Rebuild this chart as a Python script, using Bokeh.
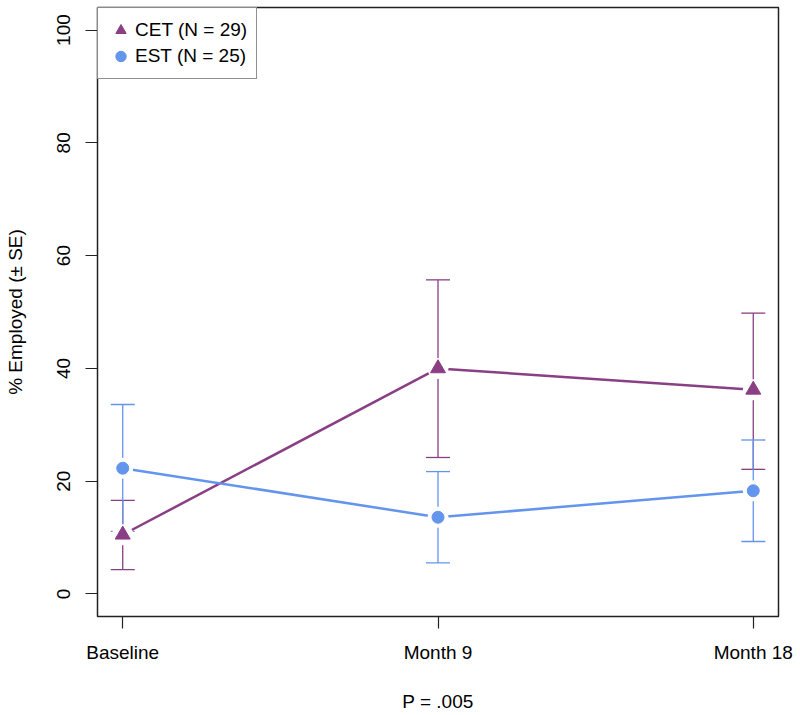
from bokeh.plotting import figure
from bokeh.models import ColumnDataSource, Whisker, TeeHead, Legend, LegendItem, FixedTicker
from bokeh.embed import file_html
from bokeh.resources import INLINE

timepoints = ["Baseline", "Month 9", "Month 18"]
xpos = [1, 2, 3]

cet_mean = [10.5, 40.0, 36.2]
cet_lower = [4.3, 24.2, 22.1]
cet_upper = [16.6, 55.7, 49.8]

est_mean = [22.3, 13.6, 18.3]
est_lower = [11.1, 5.5, 9.3]
est_upper = [33.6, 21.7, 27.3]

y_ticks = [0, 20, 40, 60, 80, 100]

CET_COL = "#8A3F85"
EST_COL = "#6495ED"
FONT = "Liberation Sans"
FS = "19px"

p = figure(width=800, height=715, output_backend="svg", toolbar_location=None,
           x_range=(0.92, 3.08), y_range=(-4, 104),
           min_border_left=97, min_border_right=22, min_border_top=7, min_border_bottom=99)
p.grid.visible = False
p.outline_line_color = "#222222"
p.outline_line_width = 1.5
p.background_fill_color = "white"
p.border_fill_color = "white"

for ax in (p.xaxis[0], p.yaxis[0]):
    ax.axis_line_color = None
    ax.major_tick_out = 12
    ax.major_tick_in = 0
    ax.minor_tick_line_color = None
    ax.major_tick_line_color = "#222222"
    ax.major_tick_line_width = 1.2
    ax.major_label_text_font = FONT
    ax.major_label_text_font_size = FS
    ax.major_label_text_color = "black"
    ax.axis_label_text_font = FONT
    ax.axis_label_text_font_size = FS
    ax.axis_label_text_font_style = "normal"
    ax.axis_label_text_color = "black"

p.xaxis.ticker = FixedTicker(ticks=xpos)
p.xaxis.major_label_overrides = {x: t for x, t in zip(xpos, timepoints)}
p.xaxis.major_label_standoff = 13
p.xaxis.axis_label = "P = .005"
p.xaxis.axis_label_standoff = 25

p.yaxis.ticker = FixedTicker(ticks=y_ticks)
p.yaxis.major_label_orientation = "vertical"
p.yaxis.major_label_standoff = 15
p.yaxis.axis_label = "% Employed (± SE)"
p.yaxis.axis_label_standoff = 29

cet = ColumnDataSource(dict(x=xpos, y=cet_mean, lo=cet_lower, hi=cet_upper))
est = ColumnDataSource(dict(x=xpos, y=est_mean, lo=est_lower, hi=est_upper))

# connecting lines, with white halos to create R-style gaps around points
p.line("x", "y", source=cet, line_color=CET_COL, line_width=2.5)
p.line("x", "y", source=est, line_color=EST_COL, line_width=2.5)
p.scatter("x", "y", source=cet, marker="circle", size=21, fill_color="white", line_color=None)
p.scatter("x", "y", source=est, marker="circle", size=21, fill_color="white", line_color=None)

for src, col in ((cet, CET_COL), (est, EST_COL)):
    w = Whisker(source=src, base="x", lower="lo", upper="hi", line_color=col, line_width=1.3,
                upper_head=TeeHead(size=24, line_color=col, line_width=1.3),
                lower_head=TeeHead(size=24, line_color=col, line_width=1.3))
    p.add_layout(w)

r_cet = p.scatter("x", "y", source=cet, marker="triangle", size=15, fill_color=CET_COL, line_color=CET_COL)
r_est = p.scatter("x", "y", source=est, marker="circle", size=12, fill_color=EST_COL, line_color=EST_COL)

legend = Legend(items=[LegendItem(label="CET (N = 29)", renderers=[r_cet]),
                       LegendItem(label="EST (N = 25)", renderers=[r_est])],
                location="top_left", margin=0, padding=9, spacing=0,
                border_line_color="#222222", border_line_width=1.5,
                label_text_font=FONT, label_text_font_size=FS, label_text_color="black",
                glyph_width=27, glyph_height=26, label_standoff=1)
p.add_layout(legend)

open("out.html", "w").write(file_html(p, INLINE))
